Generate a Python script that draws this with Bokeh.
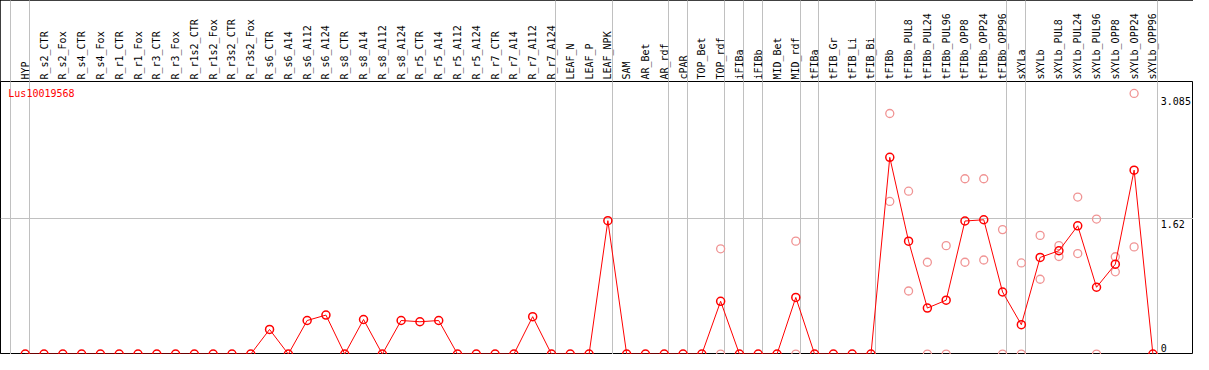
from bokeh.plotting import figure
from bokeh.models import FixedTicker, Range1d
from bokeh.core.properties import value
from bokeh.embed import file_html
from bokeh.resources import INLINE

categories = ["HYP", "R_s2_CTR", "R_s2_Fox", "R_s4_CTR", "R_s4_Fox", "R_r1_CTR", "R_r1_Fox",
              "R_r3_CTR", "R_r3_Fox", "R_r1s2_CTR", "R_r1s2_Fox", "R_r3s2_CTR", "R_r3s2_Fox",
              "R_s6_CTR", "R_s6_A14", "R_s6_A112", "R_s6_A124", "R_s8_CTR", "R_s8_A14",
              "R_s8_A112", "R_s8_A124", "R_r5_CTR", "R_r5_A14", "R_r5_A112", "R_r5_A124",
              "R_r7_CTR", "R_r7_A14", "R_r7_A112", "R_r7_A124", "LEAF_N", "LEAF_P", "LEAF_NPK",
              "SAM", "AR_Bet", "AR_rdf", "cPAR", "TOP_Bet", "TOP_rdf", "iFIBa", "iFIBb",
              "MID_Bet", "MID_rdf", "tFIBa", "tFIB_Gr", "tFIB_Li", "tFIB_Bi", "tFIBb",
              "tFIBb_PUL8", "tFIBb_PUL24", "tFIBb_PUL96", "tFIBb_OPP8", "tFIBb_OPP24",
              "tFIBb_OPP96", "sXYLa", "sXYLb", "sXYLb_PUL8", "sXYLb_PUL24", "sXYLb_PUL96",
              "sXYLb_OPP8", "sXYLb_OPP24", "sXYLb_OPP96"]

mean_values = [0, 0, 0, 0, 0, 0, 0, 0, 0, 0, 0, 0, 0,
               0.295, 0, 0.402, 0.467, 0, 0.414, 0, 0.402, 0.387, 0.402,
               0, 0, 0, 0, 0.448, 0, 0, 0, 1.597,
               0, 0, 0, 0, 0, 0.632, 0, 0, 0, 0.678,
               0, 0, 0, 0, 2.355, 1.352, 0.551, 0.645, 1.593, 1.608, 0.743,
               0.352, 1.157, 1.237, 1.536, 0.800, 1.076, 2.202, 0]

rep_categories = ["TOP_rdf", "TOP_rdf", "MID_rdf", "MID_rdf",
                  "tFIBb", "tFIBb", "tFIBb_PUL8", "tFIBb_PUL8", "tFIBb_PUL24", "tFIBb_PUL24",
                  "tFIBb_PUL96", "tFIBb_PUL96", "tFIBb_OPP8", "tFIBb_OPP8",
                  "tFIBb_OPP24", "tFIBb_OPP24", "tFIBb_OPP96", "tFIBb_OPP96",
                  "sXYLa", "sXYLa", "sXYLb", "sXYLb", "sXYLb_PUL8", "sXYLb_PUL8",
                  "sXYLb_PUL24", "sXYLb_PUL24", "sXYLb_PUL96", "sXYLb_PUL96",
                  "sXYLb_OPP8", "sXYLb_OPP8", "sXYLb_OPP24", "sXYLb_OPP24"]
rep_values = [1.26, 0, 1.352, 0,
              2.88, 1.827, 1.95, 0.755, 1.099, 0,
              1.298, 0, 2.099, 1.099,
              2.099, 1.126, 1.49, 0,
              1.091, 0, 1.421, 0.896, 1.298, 1.168,
              1.88, 1.203, 1.616, 0,
              1.165, 0.985, 3.12, 1.283]

# indices of the last category of each group (-1 = before the first)
group_ends = [-1, 0, 28, 31, 34, 35, 37, 38, 39, 41, 42, 45, 52, 53, 60]

y_ticks = [0, 1.62, 3.085]
y_tick_labels = ["0", "1.62", "3.085"]
gene_name = "Lus10019568"

FONT = "DejaVu Sans Mono"
GREY = "#c0c0c0"
W, H = 1193, 354
HEADER = 81

idx = list(range(len(categories)))
seps = [k + 0.23 for k in group_ends]

p = figure(width=W, height=H,
           x_range=Range1d(-1.316, 62.16), y_range=Range1d(-0.005, 3.263),
           x_axis_location="above", y_axis_location=None,
           toolbar_location=None, output_backend="svg",
           min_border=0, min_border_top=HEADER)
p.styles = {"outline": "1px solid black", "outline-offset": "-1px"}
p.outline_line_color = "black"
p.outline_line_width = 1
p.background_fill_color = "white"
p.border_fill_color = "white"

ax = p.xaxis[0]
ax.ticker = FixedTicker(ticks=idx, minor_ticks=seps)
ax.major_label_overrides = {i: c for i, c in enumerate(categories)}
ax.major_label_orientation = "vertical"
ax.major_label_standoff = -(HEADER - 2)
ax.major_label_text_font = FONT
ax.major_label_text_font_size = "10px"
ax.major_label_text_color = "black"
ax.major_tick_line_color = None
ax.major_tick_out = 0
ax.major_tick_in = 0
ax.minor_tick_out = HEADER
ax.minor_tick_in = 0
ax.minor_tick_line_color = GREY
ax.axis_line_color = None

p.xgrid.ticker = FixedTicker(ticks=seps)
p.xgrid.grid_line_color = GREY
p.ygrid.ticker = FixedTicker(ticks=[y_ticks[1]])
p.ygrid.grid_line_color = GREY

rep_x = [categories.index(c) for c in rep_categories]
p.scatter(rep_x, rep_values, marker="circle", size=8, fill_color=None,
          line_color="#f09494", line_width=1.3)

p.line(idx, mean_values, line_color="red", line_width=1)
p.scatter(idx, mean_values, marker="circle", size=8, fill_color=None,
          line_color="red", line_width=1.5)

label_x = 60.42
p.text(x=[label_x], y=[y_ticks[0]], text=[y_tick_labels[0]], text_align="left",
       text_baseline="bottom", y_offset=-2, text_font=value(FONT),
       text_font_size="10px", text_color="black")
p.text(x=[label_x, label_x], y=y_ticks[1:], text=y_tick_labels[1:], text_align="left",
       text_baseline="top", y_offset=1, text_font=value(FONT),
       text_font_size="10px", text_color="black")

p.text(x=[-0.9], y=[3.125], text=[gene_name], text_align="left", text_baseline="middle",
       text_font=value(FONT), text_font_size="10px", text_color="red")

open("out.html", "w").write(file_html(p, INLINE))
